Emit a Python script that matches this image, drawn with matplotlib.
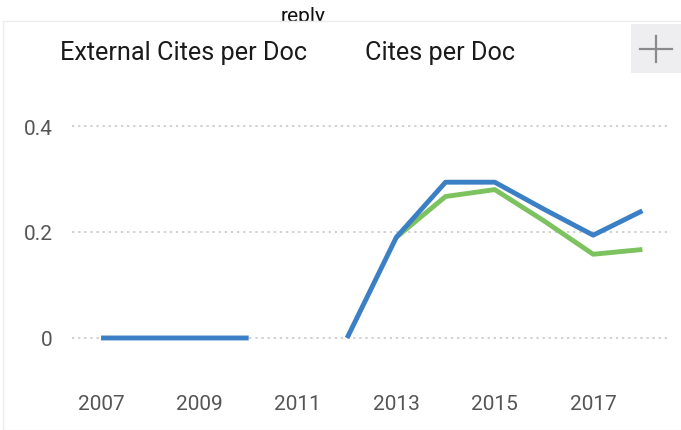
import numpy as np
import matplotlib.pyplot as plt
from matplotlib.patches import Rectangle

plt.rcParams['font.family'] = ['Roboto', 'DejaVu Sans']

years = [2007, 2008, 2009, 2010, 2011, 2012, 2013, 2014, 2015, 2016, 2017, 2018]
cites_per_doc = [0, 0, 0, 0, np.nan, 0, 0.19, 0.294, 0.294, 0.243, 0.194, 0.24]
external_cites = [np.nan, np.nan, np.nan, np.nan, np.nan, np.nan,
                  0.19, 0.267, 0.28, 0.221, 0.158, 0.167]
legend_labels = ['External Cites per Doc', 'Cites per Doc']
y_ticks = [0, 0.2, 0.4]
x_ticks = [2007, 2009, 2011, 2013, 2015, 2017]

W, H = 681, 431
fig = plt.figure(figsize=(W / 100, H / 100), dpi=100)

# title partly hidden behind the card
fig.text(303 / W, 1 - 16 / H, 'reply', ha='center', va='center',
         fontsize=15, color='#111111', zorder=1)
card = Rectangle((3 / W, 0), 1, 1 - 22 / H, transform=fig.transFigure,
                 facecolor='white', edgecolor='#ececec', lw=1, zorder=2)
fig.patches.append(card)

# "+" button
btn = Rectangle((631 / W, 1 - 74 / H), 50 / W, 49 / H, transform=fig.transFigure,
                facecolor='#eeeef0', edgecolor='none', zorder=3)
fig.patches.append(btn)
fig.lines.append(plt.Line2D([640 / W, 672 / W], [1 - 50 / H] * 2,
                            transform=fig.transFigure, color='#8a8a8a', lw=1.6, zorder=4))
fig.lines.append(plt.Line2D([656 / W] * 2, [1 - 37 / H, 1 - 63 / H],
                            transform=fig.transFigure, color='#8a8a8a', lw=1.6, zorder=4))

# legend texts
fig.text(60 / W, 1 - 60 / H, legend_labels[0], ha='left', va='baseline',
         fontsize=18.2, color='#1a1a1a', zorder=5)
fig.text(365 / W, 1 - 60 / H, legend_labels[1], ha='left', va='baseline',
         fontsize=18.2, color='#1a1a1a', zorder=5)

ax = fig.add_axes([72 / W, 65 / H, 595 / W, 266 / H], zorder=6)
ax.patch.set_alpha(0)
ax.plot(years, external_cites, color='#7cc35f', lw=3.5, solid_capstyle='butt')
ax.plot(years, cites_per_doc, color='#3b7fc4', lw=3.5, solid_capstyle='butt')

ax.set_xlim(2006.41, 2018.50)
ax.set_ylim(-0.051, 0.451)
ax.set_yticks(y_ticks)
ax.set_yticklabels(['0', '0.2', '0.4'])
ax.set_xticks(x_ticks)
ax.tick_params(length=0, labelsize=15, labelcolor='#555555')
ax.tick_params(axis='y', pad=14)
ax.tick_params(axis='x', pad=21)
ax.grid(axis='y', linestyle=(0, (1.5, 2.5)), color='#c4c4c4', lw=1.1)
ax.grid(axis='x', visible=False)
for s in ax.spines.values():
    s.set_visible(False)

fig.savefig('out.png', dpi=100)
